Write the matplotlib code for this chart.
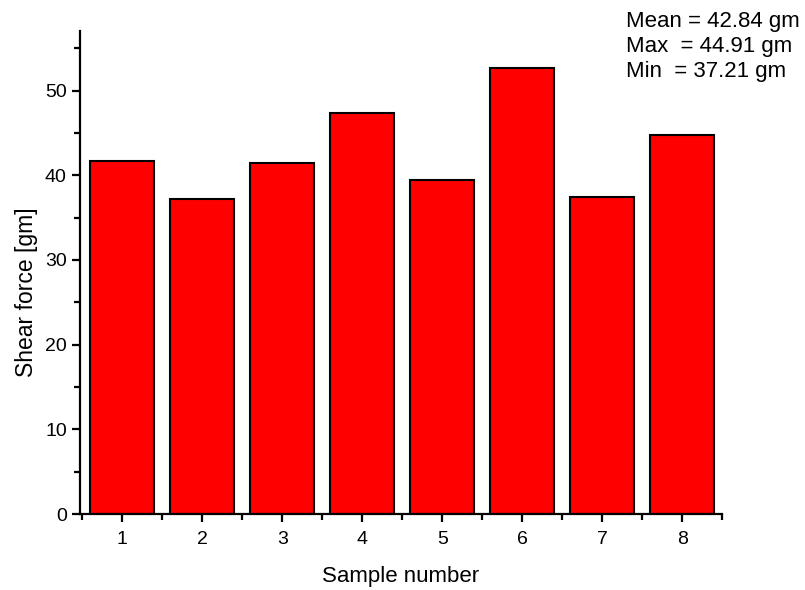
import matplotlib
matplotlib.use("Agg")
import matplotlib.pyplot as plt
from matplotlib.ticker import MultipleLocator

plt.rcParams["font.family"] = ["Liberation Sans", "DejaVu Sans"]

# Data
samples = [1, 2, 3, 4, 5, 6, 7, 8]
shear_force = [41.7, 37.2, 41.4, 47.4, 39.4, 52.7, 37.4, 44.8]
stats_lines = ["Mean = 42.84 gm", "Max  = 44.91 gm", "Min  = 37.21 gm"]

fig = plt.figure(figsize=(8.05, 5.9), dpi=100)
ax = fig.add_axes([0.0994, 0.1288, 0.7976, 0.818])

ax.bar(samples, shear_force, width=0.8, color="#ff0000",
       edgecolor="black", linewidth=1.5)

ax.set_xlim(0.47, 8.5)
ax.set_ylim(0, 57)
ax.xaxis.set_major_locator(MultipleLocator(1))
ax.xaxis.set_minor_locator(MultipleLocator(0.5))
ax.yaxis.set_major_locator(MultipleLocator(10))
ax.yaxis.set_minor_locator(MultipleLocator(5))

for side in ["top", "right"]:
    ax.spines[side].set_visible(False)
for side in ["left", "bottom"]:
    ax.spines[side].set_linewidth(1.6)

ax.tick_params(which="major", direction="out", length=6, width=1.6, labelsize=14)
ax.tick_params(axis="x", which="major", pad=6)
ax.tick_params(which="minor", direction="out", length=4, width=1.6)

ax.set_xlabel("Sample number", fontsize=16, labelpad=13)
ax.set_ylabel("Shear force [gm]", fontsize=16.5)
ax.yaxis.set_label_coords(-0.066, 0.46)

for i, line in enumerate(stats_lines):
    fig.text(0.778, 0.964 - i * 0.0425, line, fontsize=16, va="center", ha="left")

fig.savefig("out.png", dpi=100)
